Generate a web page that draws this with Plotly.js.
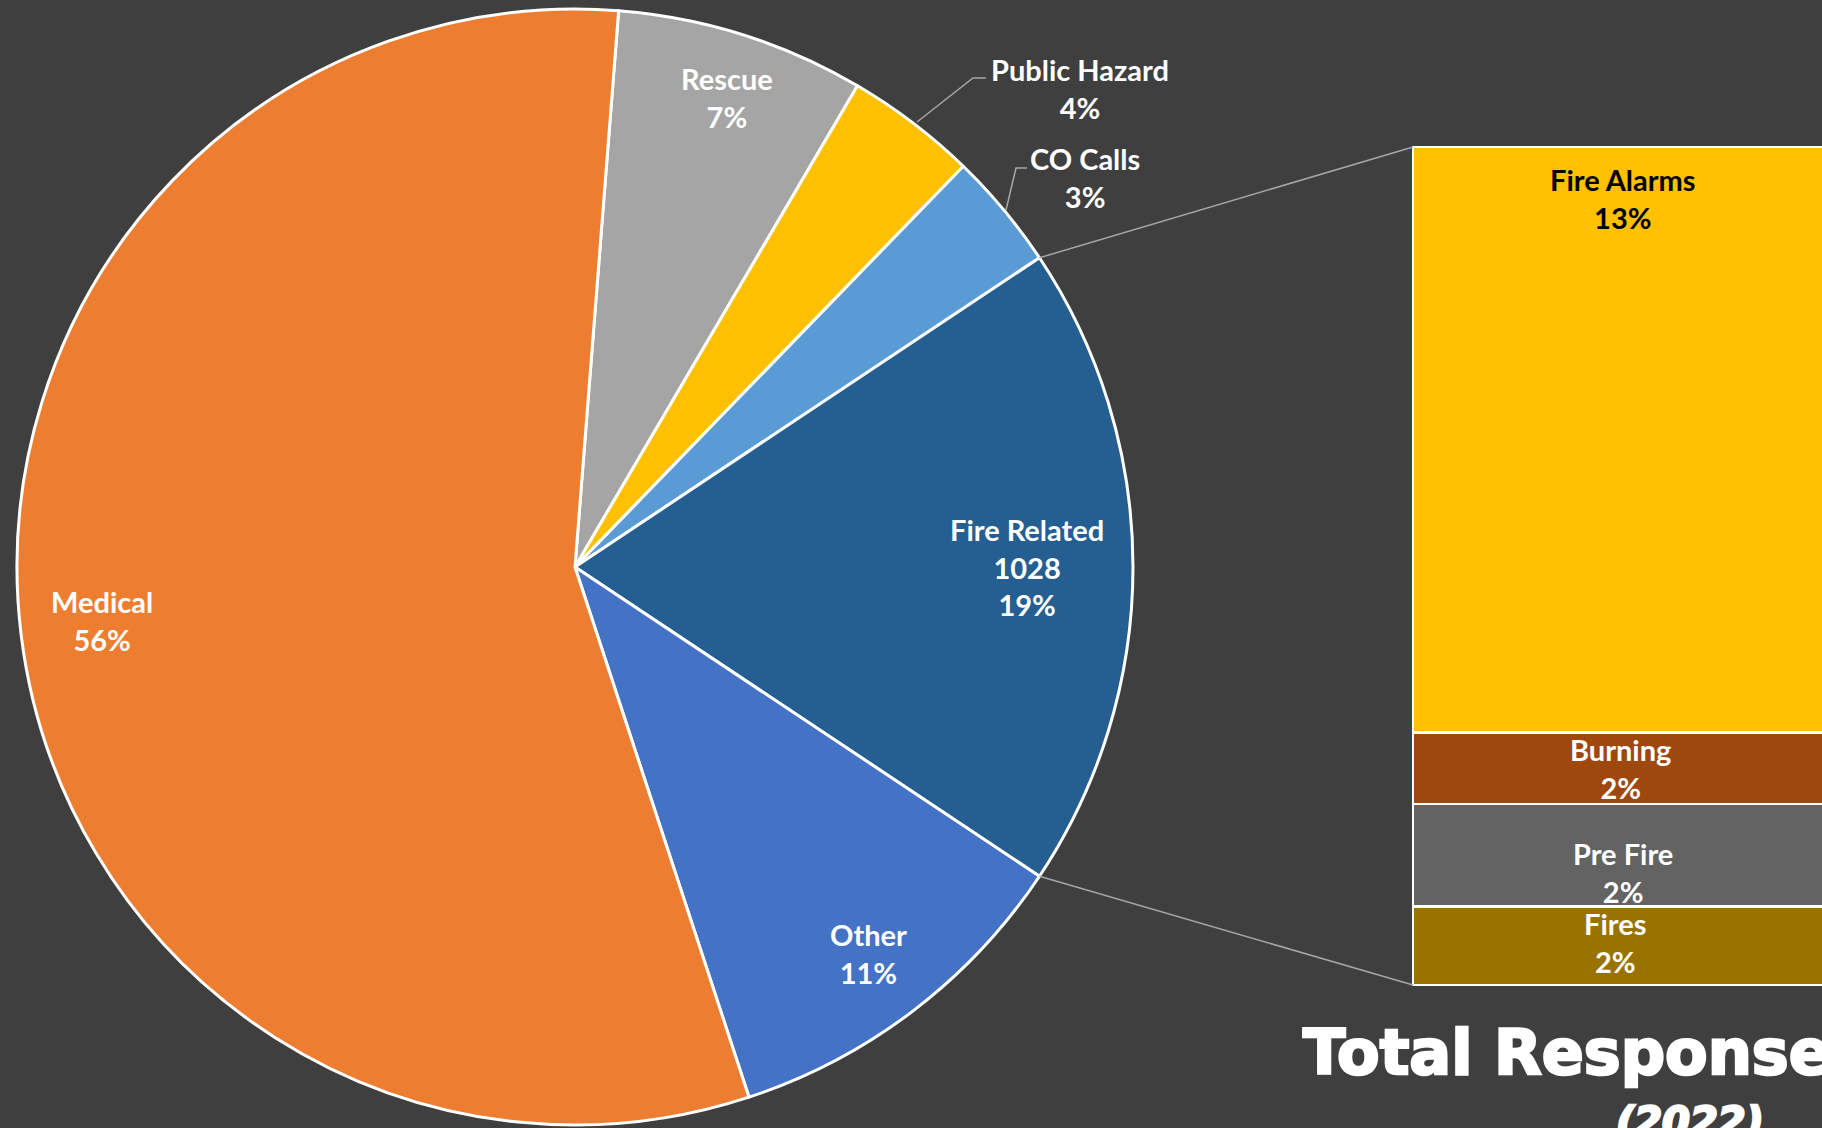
<!DOCTYPE html>
<html><head><meta charset="utf-8">
<script src="https://cdn.plot.ly/plotly-3.0.1.min.js"></script>
<style>html,body{margin:0;padding:0;background:#3f3f3f;overflow:hidden}
.annotation[data-index="10"] text, .annotation[data-index="11"] text{stroke:#ffffff;stroke-width:2.5px;paint-order:stroke}
</style>
</head><body><div id="chart" style="width:1822px;height:1128px"></div>
<script>
// ---- data ----
const pieLabels = ["Rescue", "Public Hazard", "CO Calls", "Fire Related", "Other", "Medical"];
const pieValues = [396, 209, 187, 1028, 583, 3095];
const barLabels = ["Fires", "Pre Fire", "Burning", "Fire Alarms"];
const barValues = [96, 126, 88, 718];
const titleText = "Total Response";
const subtitleText = "(2022)";

// ---- styles ----
const pieColors = ["#A5A5A5", "#FFC000", "#5B9BD5", "#255E91", "#4472C4", "#ED7D31"];
const barColors = ["#997300", "#636363", "#9E480E", "#FFC000"];
const W = 1822, H = 1128;
const BG = "#3f3f3f";
const cx = 575, cy = 567, R = 558;
const barLeft = 1413, barTop = 147, barBottom = 985;
const FONT = "Lato, 'Open Sans', sans-serif";

const total = pieValues.reduce((a, b) => a + b, 0);
const splitIdx = pieLabels.indexOf("Fire Related");
const before = pieValues.slice(0, splitIdx).reduce((a, b) => a + b, 0);
const splitVal = pieValues[splitIdx];
const rotation = 90 - (before + splitVal / 2) / total * 360;

const px = x => x / W;
const py = y => 1 - y / H;
const pct = v => Math.round(v / total * 100) + "%";

// pie
const pieTrace = {
  type: "pie", labels: pieLabels, values: pieValues, sort: false,
  direction: "clockwise", rotation: rotation, textinfo: "none", hoverinfo: "skip",
  marker: {colors: pieColors, line: {color: "#ffffff", width: 3}},
  domain: {x: [px(cx - R), px(cx + R)], y: [py(cy + R), py(cy - R)]},
  showlegend: false
};

// bar of pie
const barTraces = barLabels.map((lab, i) => ({
  type: "bar", x: [0], y: [barValues[i]], width: 1, name: lab,
  marker: {color: barColors[i], line: {color: "#ffffff", width: 2.5}},
  hoverinfo: "skip", showlegend: false, xaxis: "x", yaxis: "y"
}));
const barSum = barValues.reduce((a, b) => a + b, 0);
const pad = 5;
const unitPerPx = barSum / (barBottom - barTop);
const domLeft = 1400, kx = 700;
const r0 = -0.5 - (barLeft - domLeft) / kx;
const r1 = r0 + (W - domLeft) / kx;

// connector points on pie edge
const deg = Math.PI / 180;
const a1 = (rotation + before / total * 360) * deg;
const a2 = (rotation + (before + splitVal) / total * 360) * deg;
const p1 = [cx + R * Math.sin(a1), cy - R * Math.cos(a1)];
const p2 = [cx + R * Math.sin(a2), cy - R * Math.cos(a2)];

const shapes = [
  {type: "line", xref: "paper", yref: "paper", x0: px(p1[0]), y0: py(p1[1]), x1: px(barLeft), y1: py(barTop), line: {color: "#a6a6a6", width: 1.5}},
  {type: "line", xref: "paper", yref: "paper", x0: px(p2[0]), y0: py(p2[1]), x1: px(barLeft), y1: py(barBottom), line: {color: "#a6a6a6", width: 1.5}},
  {type: "path", xref: "paper", yref: "paper", path: `M ${px(917)} ${py(122)} L ${px(973)} ${py(78)} L ${px(986)} ${py(78)}`, line: {color: "#a6a6a6", width: 1.5}},
  {type: "path", xref: "paper", yref: "paper", path: `M ${px(1006)} ${py(210)} L ${px(1016)} ${py(168)} L ${px(1027)} ${py(168)}`, line: {color: "#a6a6a6", width: 1.5}}
];

// label placement (pixels)
const piePos = {"Rescue": [727, 98], "Public Hazard": [1080, 88], "CO Calls": [1085, 178],
  "Fire Related": [1027, 567], "Other": [868, 953], "Medical": [102, 621]};
const barPos = {"Fire Alarms": [1623, 199], "Burning": [1620, 768], "Pre Fire": [1623, 872], "Fires": [1615, 942]};

const annotations = [];
pieLabels.forEach((lab, i) => {
  const t = lab === "Fire Related" ? `${lab}<br>${pieValues[i]}<br>${pct(pieValues[i])}` : `${lab}<br>${pct(pieValues[i])}`;
  annotations.push({xref: "paper", yref: "paper", x: px(piePos[lab][0]), y: py(piePos[lab][1]),
    xanchor: "center", yanchor: "middle", showarrow: false, text: t,
    font: {family: FONT, size: 29, color: "#ffffff", weight: 700}});
});
barLabels.forEach((lab, i) => {
  annotations.push({xref: "paper", yref: "paper", x: px(barPos[lab][0]), y: py(barPos[lab][1]),
    xanchor: "center", yanchor: "middle", showarrow: false, text: `${lab}<br>${pct(barValues[i])}`,
    font: {family: FONT, size: 29, color: lab === "Fire Alarms" ? "#000000" : "#ffffff", weight: 700}});
});
annotations.push({xref: "paper", yref: "paper", x: px(1301), y: py(1052), xanchor: "left", yanchor: "middle",
  showarrow: false, text: titleText, font: {family: "'DejaVu Sans', sans-serif", size: 62, color: "#ffffff", weight: 900}});
annotations.push({xref: "paper", yref: "paper", x: px(1690), y: py(1122), xanchor: "center", yanchor: "middle",
  showarrow: false, text: subtitleText, font: {family: "'DejaVu Sans', sans-serif", size: 40, color: "#ffffff", weight: 900, style: "italic"}});

const layout = {
  width: W, height: H, margin: {l: 0, r: 0, t: 0, b: 0},
  paper_bgcolor: BG, plot_bgcolor: "rgba(0,0,0,0)", barmode: "stack", showlegend: false,
  xaxis: {domain: [px(domLeft), 1], range: [r0, r1], visible: false, fixedrange: true},
  yaxis: {domain: [py(barBottom + pad), py(barTop - pad)], range: [-pad * unitPerPx, barSum + pad * unitPerPx], visible: false, fixedrange: true},
  shapes: shapes, annotations: annotations
};

Plotly.newPlot("chart", [pieTrace, ...barTraces], layout, {displayModeBar: false, staticPlot: true});
</script></body></html>
